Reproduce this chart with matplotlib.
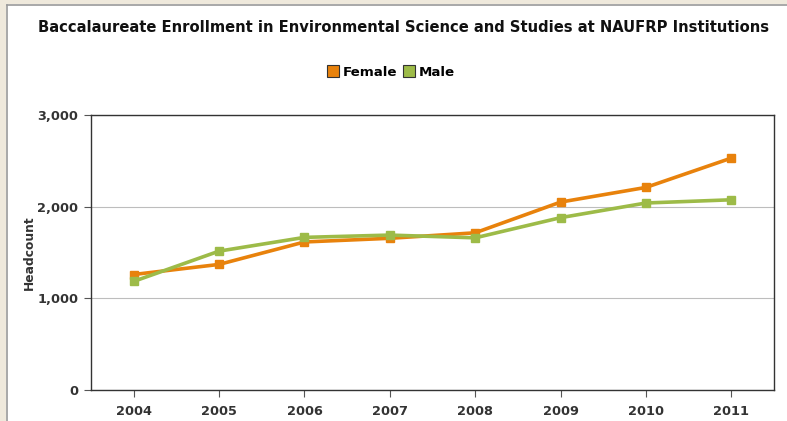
import matplotlib
matplotlib.use("Agg")
import matplotlib.pyplot as plt
from matplotlib.patches import Rectangle
from matplotlib.lines import Line2D
from matplotlib.ticker import FuncFormatter

years = [2004, 2005, 2006, 2007, 2008, 2009, 2010, 2011]
female = [1260, 1370, 1615, 1655, 1715, 2050, 2210, 2530]
male = [1185, 1515, 1665, 1690, 1660, 1880, 2040, 2075]
series_names = ["Female", "Male"]
colors = ["#E8820C", "#9DBB48"]
title = "Baccalaureate Enrollment in Environmental Science and Studies at NAUFRP Institutions"

fig = plt.figure(figsize=(7.87, 4.21), dpi=100)
fig.patch.set_facecolor("white")
# outer frame (beige strip + gray line) at left and top
fig.patches.append(Rectangle((0, 0), 6/787, 1, transform=fig.transFigure, facecolor="#EFE9DC", edgecolor="none", zorder=0))
fig.patches.append(Rectangle((0, 1-4/421), 1, 4/421, transform=fig.transFigure, facecolor="#EFE9DC", edgecolor="none", zorder=0))
fig.lines.append(Line2D([6.5/787, 6.5/787], [0, 1-4.5/421], transform=fig.transFigure, color="#9A9A9A", lw=1.2))
fig.lines.append(Line2D([6.5/787, 1], [1-4.5/421, 1-4.5/421], transform=fig.transFigure, color="#9A9A9A", lw=1.2))

ax = fig.add_axes([91/787, 1-390/421, (774-91)/787, (390-115)/421])
for vals, name, c in zip([female, male], series_names, colors):
    ax.plot(years, vals, color=c, lw=2.6, marker="s", markersize=5.5, label=name,
            solid_joinstyle="miter", zorder=3)

ax.set_xlim(2003.5, 2011.5)
ax.set_ylim(0, 3000)
ax.set_xticks(years)
ax.set_yticks([0, 1000, 2000, 3000])
ax.yaxis.set_major_formatter(FuncFormatter(lambda v, p: f"{int(v):,}"))
ax.grid(axis="y", color="#BDBDBD", lw=0.8)
ax.set_axisbelow(True)
for s in ax.spines.values():
    s.set_color("#333333")
    s.set_linewidth(1.0)
ax.tick_params(axis="both", direction="out", length=5, color="#555555", width=0.8,
               labelsize=9.3, labelcolor="#333333", pad=4)
ax.tick_params(axis="x", pad=6)
for lab in ax.get_xticklabels() + ax.get_yticklabels():
    lab.set_fontweight("bold")
ax.set_ylabel("Headcount", fontsize=8.8, fontweight="bold", color="#333333", labelpad=1)

fig.text(404/787, 1-27/421, title, ha="center", va="center", fontsize=10.6, fontweight="bold", color="#111111")

handles = [Rectangle((0, 0), 1, 1, facecolor=c, edgecolor="#333333", lw=0.8) for c in colors]
leg = fig.legend(handles, series_names, loc="center", bbox_to_anchor=(391/787, 1-72/421), ncol=2,
                 frameon=False, handlelength=0.9, handleheight=0.9, handletextpad=0.3, columnspacing=0.4,
                 prop={"weight": "bold", "size": 9.6})

fig.savefig("out.png", dpi=100)
